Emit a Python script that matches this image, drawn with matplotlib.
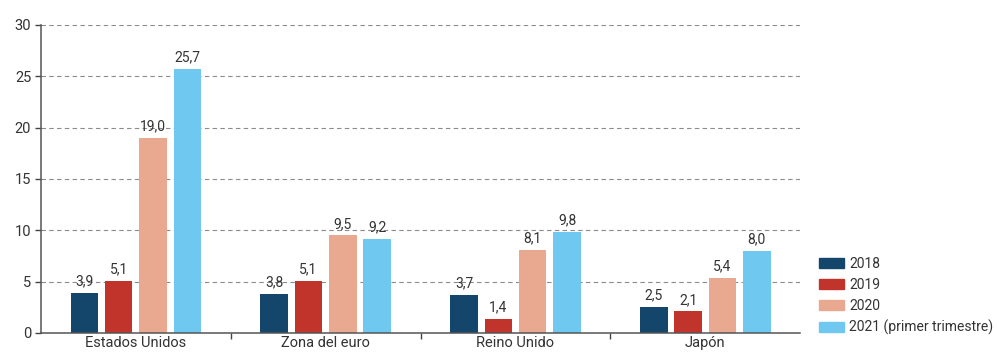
import matplotlib
matplotlib.use("Agg")
import matplotlib.pyplot as plt
import matplotlib.patches as mpatches
import numpy as np

plt.rcParams["font.family"] = ["Roboto", "DejaVu Sans"]

# datos
regiones = ["Estados Unidos", "Zona del euro", "Reino Unido", "Japón"]
series = ["2018", "2019", "2020", "2021 (primer trimestre)"]
v2018 = [3.9, 3.8, 3.7, 2.5]
v2019 = [5.1, 5.1, 1.4, 2.1]
v2020 = [19.0, 9.5, 8.1, 5.4]
v2021 = [25.7, 9.2, 9.8, 8.0]
yticks = [0, 5, 10, 15, 20, 25, 30]

COLORES = ["#14456b", "#c0342c", "#e8a990", "#6fc8f0"]
TXT = "#333333"

fig = plt.figure(figsize=(9.99, 3.52), dpi=100)
ax = fig.add_axes([0.041, 0.054, 0.760, 0.875])

x = np.arange(len(regiones)) + 0.5
ancho = 0.145
paso = 0.181
valores = [v2018, v2019, v2020, v2021]

for i, (vals, color) in enumerate(zip(valores, COLORES)):
    pos = x + (i - 1.5) * paso
    ax.bar(pos, vals, width=ancho, color=color, edgecolor="none", zorder=2)
    for xp, v in zip(pos, vals):
        ax.text(xp, v + 0.45, f"{v:.1f}".replace(".", ","), ha="center", va="bottom",
                fontsize=10, color=TXT, zorder=4)

ax.set_xlim(0, len(regiones))
ax.set_ylim(0, 30)
ax.set_yticks(yticks)
ax.set_yticklabels([str(t) for t in yticks], fontsize=10.5, color=TXT)
ax.yaxis.grid(True, linestyle=(0, (4, 3)), color="#8c8c8c", linewidth=0.8, zorder=1)
ax.set_axisbelow(True)

ax.set_xticks(x)
ax.set_xticklabels(regiones, fontsize=10.5, color=TXT)
ax.tick_params(axis="x", which="major", length=0, pad=2)
ax.set_xticks(np.arange(1, len(regiones)), minor=True)
ax.tick_params(axis="x", which="minor", length=4, color="#444444", width=1)
ax.tick_params(axis="y", length=4, color="#444444", width=1, pad=3)

for s in ["top", "right"]:
    ax.spines[s].set_visible(False)
for s in ["left", "bottom"]:
    ax.spines[s].set_color("#555555")
    ax.spines[s].set_linewidth(1.1)
    ax.spines[s].set_zorder(3)

handles = [mpatches.Patch(color=c, label=s) for c, s in zip(COLORES, series)]
fig.legend(handles=handles, loc="lower left", bbox_to_anchor=(0.820, 0.048),
           frameon=False, fontsize=10, handlelength=1.8, handleheight=0.75,
           handletextpad=0.35, labelspacing=0.5, borderaxespad=0, borderpad=0,
           labelcolor=TXT)

plt.savefig("out.png", dpi=100)
plt.close()
